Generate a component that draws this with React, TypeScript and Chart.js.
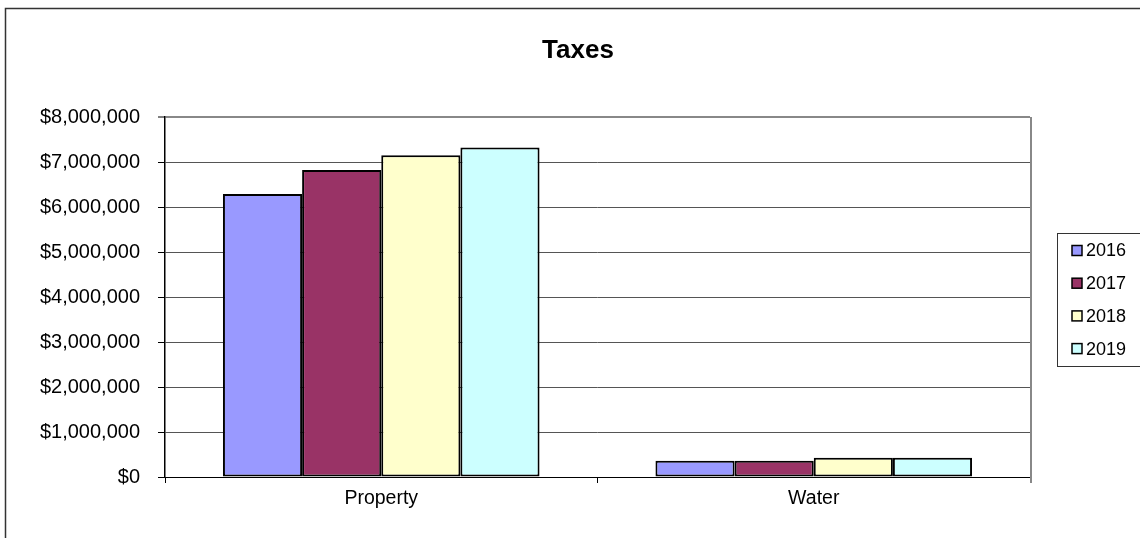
import React, { useEffect, useRef } from "react";
import { Chart, registerables } from "chart.js";

Chart.register(...registerables);

const categories = ["Property", "Water"];
const seriesNames = ["2016", "2017", "2018", "2019"];
const values2016 = [6290000, 360000];
const values2017 = [6820000, 360000];
const values2018 = [7150000, 430000];
const values2019 = [7320000, 430000];
const seriesColors = ["#9999FF", "#993366", "#FFFFCC", "#CCFFFF"];
const yTickMax = 8000000;
const yTickStep = 1000000;
const chartTitle = "Taxes";

const FONT = "'Liberation Sans', Arial, Helvetica, sans-serif";

const decorPlugin = {
  id: "decor",
  afterDraw(chart: any) {
    const ctx = chart.ctx;
    const area = chart.chartArea;
    ctx.save();
    // outer chart border
    ctx.strokeStyle = "#333";
    ctx.lineWidth = 1.5;
    ctx.strokeRect(5.5, 8.5, 1300, 700);
    // plot area right border
    ctx.strokeStyle = "#888";
    ctx.lineWidth = 2;
    ctx.beginPath();
    ctx.moveTo(area.right + 1, area.top);
    ctx.lineTo(area.right + 1, area.bottom + 6);
    ctx.stroke();
    // title
    ctx.fillStyle = "#000";
    ctx.font = `bold 26px ${FONT}`;
    ctx.textAlign = "center";
    ctx.textBaseline = "middle";
    ctx.fillText(chartTitle, 578, 51);
    // legend
    const lx = 1057.5;
    const ly = 233.5;
    ctx.strokeStyle = "#333";
    ctx.lineWidth = 1;
    ctx.strokeRect(lx, ly, 300, 133);
    ctx.font = `18px ${FONT}`;
    ctx.textAlign = "left";
    chart.data.datasets.forEach((ds: any, i: number) => {
      const cy = 250.5 + i * 32.7;
      ctx.fillStyle = ds.backgroundColor;
      ctx.fillRect(1072, cy - 5, 10, 10);
      ctx.strokeStyle = "#000";
      ctx.lineWidth = 1.5;
      ctx.strokeRect(1072, cy - 5, 10, 10);
      ctx.fillStyle = "#000";
      ctx.fillText(ds.label, 1086, cy + 1);
    });
    ctx.restore();
  },
};

export default function App() {
  const ref = useRef<HTMLCanvasElement | null>(null);
  useEffect(() => {
    document.body.style.margin = "0";
    const canvas = ref.current!;
    const allValues = [values2016, values2017, values2018, values2019];
    const chart = new Chart(canvas, {
      type: "bar",
      data: {
        labels: categories,
        datasets: seriesNames.map((name, i) => ({
          label: name,
          data: allValues[i],
          backgroundColor: seriesColors[i],
          borderColor: "#000",
          borderWidth: 2,
          borderSkipped: false,
          categoryPercentage: 0.732,
          barPercentage: 1,
        })),
      },
      options: {
        animation: false,
        responsive: false,
        devicePixelRatio: 1,
        layout: { padding: { left: 0, top: 117, right: 110, bottom: 0 } },
        plugins: {
          legend: { display: false },
          title: { display: false },
          tooltip: { enabled: false },
        },
        scales: {
          x: {
            grid: {
              display: true,
              drawOnChartArea: false,
              drawTicks: true,
              tickLength: 6,
              tickColor: "#000",
              offset: true,
            },
            border: { display: true, color: "#000", width: 1 },
            ticks: {
              color: "#000",
              font: { family: FONT, size: 19.5 },
              padding: 4,
            },
            afterFit: (scale: any) => {
              scale.height = 61;
            },
          },
          y: {
            min: 0,
            max: yTickMax,
            ticks: {
              stepSize: yTickStep,
              color: "#000",
              font: { family: FONT, size: 20 },
              padding: 18,
              callback: (v: any) => "$" + Number(v).toLocaleString("en-US"),
            },
            grid: {
              color: (c: any) => (c.tick && c.tick.value === yTickMax ? "#888" : "#555"),
              lineWidth: (c: any) => (c.tick && c.tick.value === yTickMax ? 2 : 1),
              tickLength: 7,
              tickColor: "#000",
              tickWidth: 1,
            },
            border: { display: true, color: "#000", width: 1.5 },
            afterFit: (scale: any) => {
              scale.width = 165;
            },
          },
        },
      },
      plugins: [decorPlugin],
    });
    return () => chart.destroy();
  }, []);
  return (
    <div style={{ width: 1140, height: 538, position: "relative" }}>
      <canvas ref={ref} width={1140} height={538} style={{ display: "block", width: 1140, height: 538 }} />
    </div>
  );
}
